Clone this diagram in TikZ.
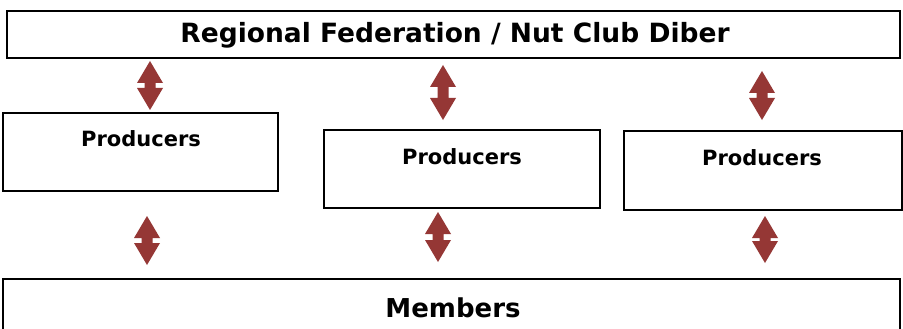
\documentclass[tikz,border=0pt]{standalone}
\usepackage{fontspec}
\setmainfont{DejaVu Sans}
\definecolor{arrowred}{HTML}{953735}
\tikzset{
  box/.style={draw=black, line width=1.5pt, fill=white},
  lbl/.style={inner sep=0pt, anchor=center},
}
\newcommand\UDArrow[3]{% x, ytop, ybottom
  \fill[arrowred] (#1,#2) -- (#1+13,#2+22) -- (#1+5.5,#2+22) -- (#1+5.5,#3-22) -- (#1+13,#3-22)
    -- (#1,#3) -- (#1-13,#3-22) -- (#1-5.5,#3-22) -- (#1-5.5,#2+22) -- (#1-13,#2+22) -- cycle;
}
\begin{document}
\begin{tikzpicture}[x=1pt,y=-1pt]
\useasboundingbox (0,0) rectangle (903,329);
\fill[white] (0,0) rectangle (903,329);
% top
\draw[box] (7,11) rectangle (900,58);
\node[lbl, font=\bfseries\fontsize{26.5}{30}\selectfont] (top) at (455,35) {Regional Federation / Nut Club Diber};
% producers
\draw[box] (3,113) rectangle (278,191);
\node[lbl, font=\bfseries\fontsize{21}{25}\selectfont] (p1) at (141,139) {Producers};
\draw[box] (324,130) rectangle (600,208);
\node[lbl, font=\bfseries\fontsize{21}{25}\selectfont] (p2) at (462,157) {Producers};
\draw[box] (624,131) rectangle (902,210);
\node[lbl, font=\bfseries\fontsize{21}{25}\selectfont] (p3) at (762,158) {Producers};
% members
\draw[box] (3,279) rectangle (900,345);
\node[lbl, font=\bfseries\fontsize{26}{30}\selectfont] (mem) at (453,308) {Members};
% arrows
\UDArrow{150}{61}{110}
\UDArrow{443}{65}{120}
\UDArrow{762}{71}{120}
\UDArrow{147}{216}{265}
\UDArrow{438}{212}{262}
\UDArrow{765}{216}{263}
\end{tikzpicture}
\end{document}
